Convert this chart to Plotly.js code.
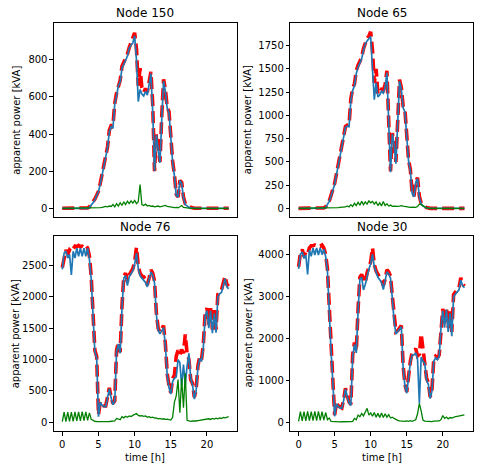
<!DOCTYPE html>
<html>
<head>
<meta charset="utf-8">
<script src="https://cdn.plot.ly/plotly-3.0.1.min.js"></script>
<style>
  html, body { margin: 0; padding: 0; background: #fff; }
  #chart { width: 482px; height: 469px; }
</style>
</head>
<body>
<div id="chart"></div>
<script>
// Apparent power per node, 15-minute samples from 0 h to 23 h (one row per hour).
// "true" = measured (red dashed), "est" = estimated (blue), "err" = absolute deviation (green).

const n150_true = [
  0,0,0,0,  0,0,0,0,  0,0,0,0,  0,0,2,8,
  20,35,50,70,  92,135,185,235,  280,330,420,445,  445,565,620,665,
  690,765,785,805,  830,865,890,910,  945,860,660,755,  650,625,645,625,
  690,735,560,200,  400,330,250,500,  695,640,545,520,  360,255,180,75,
  60,150,140,60,  25,15,10,5,  0,0,0,0,  0,0,0,0,
  0,0,0,0,  0,0,0,0,  0,0,0,0,  0
];
const n150_est = [
  0,0,0,0,  0,0,0,0,  0,0,0,0,  0,0,0,5,
  15,30,45,65,  90,130,180,230,  275,325,410,440,  430,560,605,660,
  680,755,775,800,  820,860,880,890,  930,800,575,640,  615,605,630,610,
  680,725,520,200,  395,320,245,480,  685,630,540,515,  350,250,175,70,
  60,150,135,55,  20,10,5,2,  0,0,0,0,  0,0,0,0,
  0,0,0,0,  0,0,0,0,  0,0,0,0,  0
];
const n150_err = [
  0,0,0,0,  0,0,0,0,  0,0,0,0,  0,0,0,0,
  0,0,1,2,  3,3,5,8,  10,8,12,10,  20,8,25,12,
  30,15,35,20,  38,25,40,28,  42,25,35,128,  20,15,22,12,
  15,10,12,8,  10,12,8,10,  12,15,10,8,  6,5,4,5,
  3,8,15,5,  3,2,1,0,  0,0,0,0,  0,0,0,0,
  0,0,0,0,  0,0,0,0,  0,0,0,0,  0
];

const n65_true = [
  0,0,0,0,  0,0,0,0,  0,0,0,0,  0,0,5,15,
  45,80,140,200,  270,370,480,590,  690,810,880,895,  900,1180,1290,1340,
  1480,1540,1580,1625,  1720,1790,1830,1855,  1900,1700,1350,1500,  1230,1250,1280,1270,
  1330,1480,950,400,  810,700,500,950,  1385,1300,1100,1060,  750,520,420,170,
  130,290,330,130,  55,30,20,8,  0,0,0,0,  0,0,0,0,
  0,0,0,0,  0,0,0,0,  0,0,0,0,  0
];
const n65_est = [
  0,0,0,0,  0,0,0,0,  0,0,0,0,  0,0,2,10,
  40,75,130,190,  260,360,470,580,  680,800,870,885,  880,1160,1270,1320,
  1450,1520,1560,1610,  1700,1770,1800,1820,  1850,1500,1170,1350,  1200,1220,1260,1240,
  1300,1460,930,390,  800,690,480,930,  1370,1280,1080,1040,  730,510,410,160,
  125,280,320,120,  50,25,15,5,  0,0,0,0,  0,0,0,0,
  0,0,0,0,  0,0,0,0,  0,0,0,0,  0
];
const n65_err = [
  0,0,0,0,  0,0,0,0,  0,0,0,0,  0,0,0,0,
  0,0,0,2,  5,5,8,10,  12,10,15,25,  15,40,20,55,
  30,65,35,75,  40,70,45,80,  60,75,45,70,  30,60,25,75,
  30,50,25,35,  22,25,20,22,  25,30,25,20,  15,12,10,12,
  8,10,20,45,  40,25,10,5,  0,0,0,0,  0,0,0,0,
  0,0,0,0,  0,0,0,0,  0,0,0,0,  0
];

const n76_true = [
  2470,2650,2750,2680,  2750,2720,2780,2810,  2800,2820,2800,2810,  2790,2820,2780,2650,
  2320,1700,1150,1050,  120,330,280,260,  260,400,550,400,  300,340,1150,1280,
  1120,1850,2330,2380,  2250,2350,2400,2450,  2560,2790,2500,2380,  2330,2320,2280,2190,
  2300,2430,2380,2250,  1750,1500,1440,1500,  1540,1250,780,580,  470,700,750,1050,
  1150,1080,1160,1100,  1400,1100,1000,680,  620,400,520,900,  1050,1000,1250,1750,
  1820,1560,1820,1480,  1790,1480,2040,2090,  2110,2220,2330,2200,  2170
];
const n76_est = [
  2440,2700,2730,2620,  2680,2350,2730,2620,  2780,2650,2780,2650,  2780,2650,2780,2600,
  2280,1680,1130,1030,  90,320,270,250,  250,390,530,390,  280,330,1130,1250,
  1100,1820,2300,2340,  2180,2320,2370,2420,  2520,2700,2460,2340,  2300,2270,2230,2160,
  2280,2400,2350,2220,  1720,1470,1410,1470,  1510,1220,750,550,  450,650,700,720,
  1000,950,580,920,  600,900,1100,700,  600,370,500,880,  1020,970,1200,1700,
  1780,1500,1780,1420,  1740,1430,2000,2050,  2070,2180,2290,2160,  2130
];
const n76_err = [
  10,160,10,160,  15,160,15,165,  20,165,20,170,  25,165,30,150,
  45,25,15,12,  10,10,8,10,  12,10,12,15,  10,20,60,50,
  40,90,70,95,  80,100,90,110,  120,140,110,100,  105,95,100,80,
  90,75,80,65,  70,55,60,50,  55,45,50,40,  35,80,320,420,
  680,150,700,230,  780,30,20,15,  20,15,20,25,  30,25,30,45,
  40,55,45,60,  50,65,55,70,  60,75,70,85,  90
];

const n30_true = [
  3700,4030,4110,3950,  4050,4000,4150,4200,  4200,4220,4200,4210,  4190,4220,4150,4000,
  3650,2600,1750,1000,  170,460,390,360,  340,540,810,630,  480,420,1600,1900,
  1690,2700,3450,3520,  3400,3320,3560,3680,  3820,4150,3750,3600,  3500,3450,3400,3250,
  3400,3630,3580,3480,  3000,2450,2150,2180,  2250,2300,1350,900,  720,1100,1450,1650,
  1700,1750,1580,1620,  2100,1700,1450,1050,  940,600,780,1500,  1570,1530,1600,2300,
  2700,2350,2720,2250,  2640,2150,3040,3100,  3140,3200,3440,3300,  3240
];
const n30_est = [
  3650,4000,4050,3900,  3980,3520,4100,3950,  4150,3980,4150,3980,  4150,3990,4120,3950,
  3600,2550,1700,960,  140,440,370,340,  330,520,790,610,  460,400,1550,1850,
  1650,2650,3400,3450,  3150,3280,3500,3640,  3780,4000,3700,3560,  3450,3390,3330,3160,
  3350,3580,3530,3430,  2950,2400,2100,2150,  2200,2270,1300,860,  690,1060,1420,1600,
  1600,1650,1500,450,  1550,1450,1400,1000,  900,560,740,1450,  1530,1490,1560,2250,
  2650,2250,2680,2150,  2600,2050,2980,3050,  3100,3150,3380,3250,  3200
];
const n30_err = [
  20,250,30,250,  30,255,35,250,  40,255,40,255,  45,250,50,230,
  60,100,20,15,  10,8,10,8,  10,8,10,12,  10,15,20,90,
  60,170,130,210,  150,250,330,170,  220,140,230,120,  210,110,220,110,
  200,120,180,100,  120,90,60,45,  30,20,25,18,  30,20,35,20,
  40,60,200,450,  270,50,25,20,  18,20,15,25,  30,40,30,60,
  160,90,120,80,  110,100,120,130,  140,150,155,165,  175
];

// One panel per node: title, measured, estimated, deviation, y range, y tick step
const panels = [
  { name: 'Node 150', t: n150_true, e: n150_est, d: n150_err, yr: [-47, 998],   dt: 200 },
  { name: 'Node 65',  t: n65_true,  e: n65_est,  d: n65_err,  yr: [-93, 1995],  dt: 250 },
  { name: 'Node 76',  t: n76_true,  e: n76_est,  d: n76_err,  yr: [-140, 2977], dt: 500 },
  { name: 'Node 30',  t: n30_true,  e: n30_est,  d: n30_err,  yr: [-210, 4440], dt: 1000 }
];

const hoursOf = arr => arr.map((_, i) => i / 4);

const font = { family: 'DejaVu Sans, sans-serif', size: 10, color: '#000' };
const xDomains = [[0.112, 0.4917], [0.6023, 0.9807], [0.112, 0.4917], [0.6023, 0.9807]];
const yDomains = [[0.5373, 0.951], [0.5373, 0.951], [0.081, 0.4974], [0.081, 0.4974]];
const yLabelX = [0.035, 0.515, 0.031, 0.515];
const titleY = [0.973, 0.973, 0.516, 0.516];

const traces = [];
const layout = {
  width: 482, height: 469,
  margin: { l: 0, r: 0, t: 0, b: 0 },
  paper_bgcolor: '#fff', plot_bgcolor: '#fff',
  showlegend: false,
  font: font,
  annotations: []
};

panels.forEach((p, k) => {
  const n = k === 0 ? '' : String(k + 1);
  const xa = 'x' + n, ya = 'y' + n;
  traces.push({ x: hoursOf(p.t), y: p.t, xaxis: xa, yaxis: ya, type: 'scatter', mode: 'lines',
    line: { color: '#ff0000', width: 3.6, dash: '12px,5px' }, hoverinfo: 'skip' });
  traces.push({ x: hoursOf(p.e), y: p.e, xaxis: xa, yaxis: ya, type: 'scatter', mode: 'lines',
    line: { color: '#1f77b4', width: 1.7 }, hoverinfo: 'skip' });
  traces.push({ x: hoursOf(p.d), y: p.d, xaxis: xa, yaxis: ya, type: 'scatter', mode: 'lines',
    line: { color: '#008000', width: 1.3 }, hoverinfo: 'skip' });

  const bottom = k >= 2;
  layout['xaxis' + n] = {
    domain: xDomains[k], anchor: ya, range: [-1.15, 24.15],
    showgrid: false, zeroline: false, showline: true, mirror: true,
    linecolor: '#000', linewidth: 1,
    ticks: bottom ? 'outside' : '', ticklen: 3.5, tickwidth: 1, tickcolor: '#000',
    tickvals: [0, 5, 10, 15, 20], showticklabels: bottom, tickfont: font
  };
  const tv = [];
  for (let v = 0; v <= p.yr[1]; v += p.dt) tv.push(v);
  layout['yaxis' + n] = {
    domain: yDomains[k], anchor: xa, range: p.yr,
    showgrid: false, zeroline: false, showline: true, mirror: true,
    linecolor: '#000', linewidth: 1,
    ticks: 'outside', ticklen: 3.5, tickwidth: 1, tickcolor: '#000',
    tickvals: tv, tickfont: font
  };

  const cx = (xDomains[k][0] + xDomains[k][1]) / 2;
  const cy = (yDomains[k][0] + yDomains[k][1]) / 2;
  layout.annotations.push({ text: p.name, xref: 'paper', yref: 'paper', x: cx, y: titleY[k],
    xanchor: 'center', yanchor: 'middle', showarrow: false,
    font: { family: 'DejaVu Sans, sans-serif', size: 12, color: '#000' } });
  layout.annotations.push({ text: 'apparent power [kVA]', xref: 'paper', yref: 'paper',
    x: yLabelX[k], y: cy, textangle: -90, xanchor: 'center', yanchor: 'middle',
    showarrow: false, font: font });
  if (bottom) {
    layout.annotations.push({ text: 'time [h]', xref: 'paper', yref: 'paper', x: cx, y: 0.024,
      xanchor: 'center', yanchor: 'middle', showarrow: false, font: font });
  }
});

Plotly.newPlot('chart', traces, layout, { staticPlot: true, displayModeBar: false });
</script>
</body>
</html>
